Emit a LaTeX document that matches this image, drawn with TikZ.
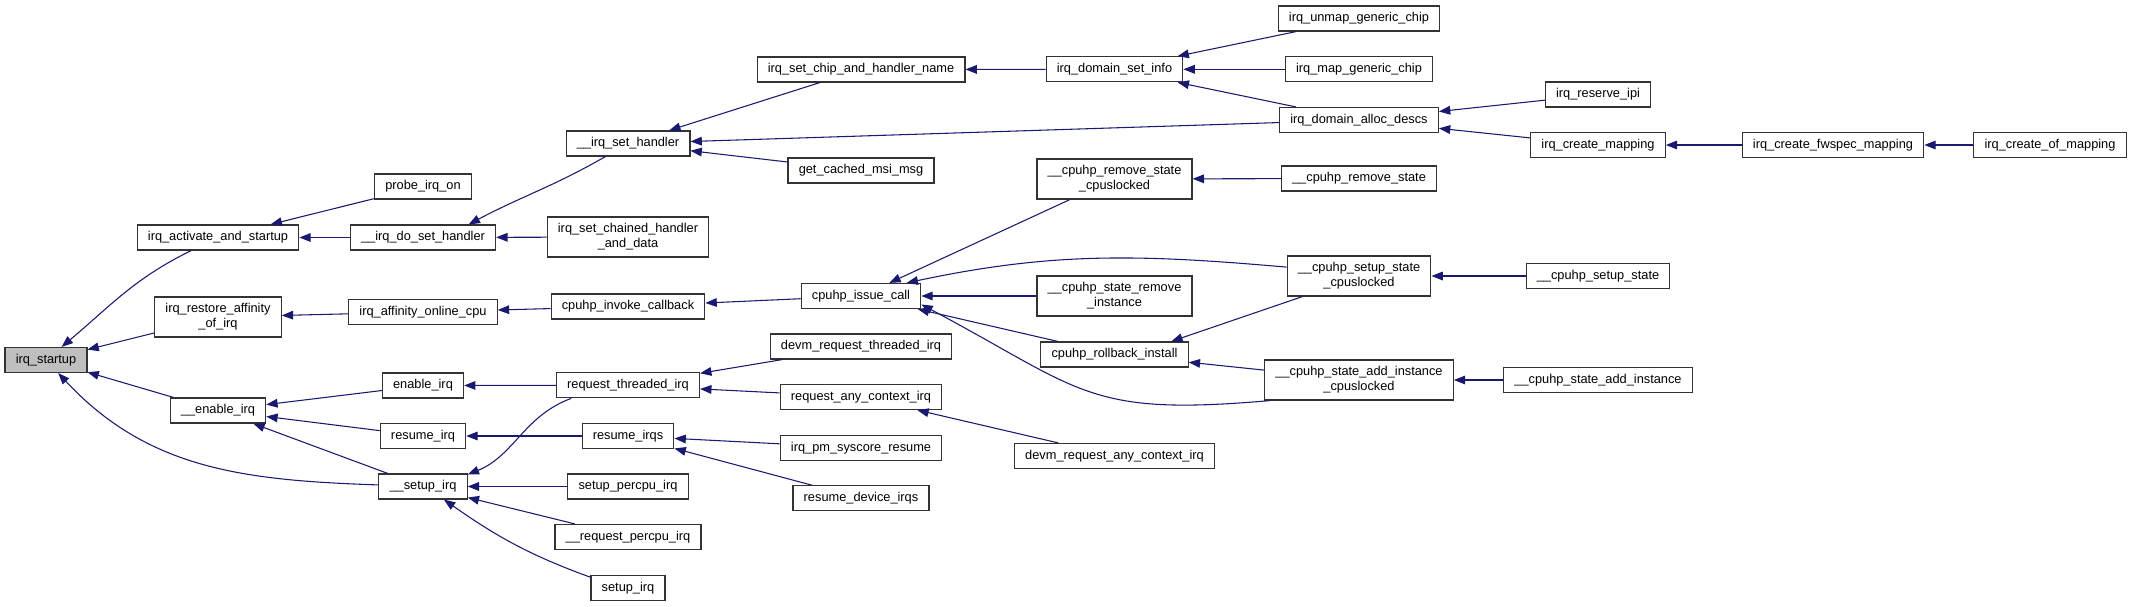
\documentclass[tikz,border=0pt]{standalone}
\usepackage{fontspec}
\setmainfont{Liberation Sans}
\usepackage{xcolor}
\usepackage{tikz}
\usetikzlibrary{arrows.meta}

\definecolor{callblue}{RGB}{25,25,112}
\definecolor{rootgray}{RGB}{191,191,191}

\begin{document}
\begin{tikzpicture}[x=0.75pt, y=-0.75pt, every node/.style={font=\fontsize{9.6}{11.25}\selectfont}]
  % Styles for the call graph
  \tikzstyle{func} = [rectangle, draw=black!80, line width=0.9pt, fill=white, minimum height=18.75pt, inner xsep=8pt, inner ysep=2pt, align=center]
  \tikzstyle{functwo} = [func, minimum height=30pt]
  \tikzstyle{rootfunc} = [func, fill=rootgray]
  \tikzstyle{call} = [->, >={Triangle[length=8.5pt,width=6.5pt]}, line width=0.8pt, color=callblue]

  \useasboundingbox (0,0) rectangle (2132,607);

  % Root function
  \node[rootfunc] (startup) at (46,360) {irq\_startup};

  % Direct callers
  \node[func] (activate) at (218,237.5) {irq\_activate\_and\_startup};
  \node[functwo] (restore) at (218,317) {irq\_restore\_affinity\\\_of\_irq};
  \node[func] (enableirqq) at (218,410.5) {\_\_enable\_irq};

  % Second level
  \node[func] (probe) at (423,186.5) {probe\_irq\_on};
  \node[func] (dosethandler) at (423,237.5) {\_\_irq\_do\_set\_handler};
  \node[func] (affinity) at (423,312) {irq\_affinity\_online\_cpu};
  \node[func] (enable) at (423,385.5) {enable\_irq};
  \node[func] (resumeirq) at (423,436) {resume\_irq};
  \node[func] (setupirq) at (423,486.5) {\_\_setup\_irq};

  % Third level
  \node[func] (sethandler) at (628,143.5) {\_\_irq\_set\_handler};
  \node[functwo] (chained) at (628,237) {irq\_set\_chained\_handler\\\_and\_data};
  \node[func] (invoke) at (628,306.5) {cpuhp\_invoke\_callback};
  \node[func] (reqthreaded) at (628,385.3) {request\_threaded\_irq};
  \node[func] (resumeirqs) at (628,436) {resume\_irqs};
  \node[func] (setuppercpu) at (628,486.5) {setup\_percpu\_irq};
  \node[func] (reqpercpu) at (628,537) {\_\_request\_percpu\_irq};
  \node[func] (setupirqfn) at (628,588) {setup\_irq};

  % Fourth level
  \node[func] (chipname) at (861,69.5) {irq\_set\_chip\_and\_handler\_name};
  \node[func] (cachedmsi) at (861,170.5) {get\_cached\_msi\_msg};
  \node[func] (issuecall) at (861,296) {cpuhp\_issue\_call};
  \node[func] (devmthreaded) at (861,346.5) {devm\_request\_threaded\_irq};
  \node[func] (anycontext) at (861,397) {request\_any\_context\_irq};
  \node[func] (syscore) at (861,448) {irq\_pm\_syscore\_resume};
  \node[func] (resumedev) at (861,498.3) {resume\_device\_irqs};

  % Fifth level
  \node[func] (setinfo) at (1114.5,69.3) {irq\_domain\_set\_info};
  \node[functwo] (removecl) at (1114.5,179) {\_\_cpuhp\_remove\_state\\\_cpuslocked};
  \node[functwo] (removeinst) at (1114.5,296) {\_\_cpuhp\_state\_remove\\\_instance};
  \node[func] (rollback) at (1114.5,354.5) {cpuhp\_rollback\_install};
  \node[func] (devmany) at (1114.5,456) {devm\_request\_any\_context\_irq};

  % Sixth level
  \node[func] (unmapchip) at (1359,18.5) {irq\_unmap\_generic\_chip};
  \node[func] (mapchip) at (1359,69.3) {irq\_map\_generic\_chip};
  \node[func] (allocdescs) at (1359,120) {irq\_domain\_alloc\_descs};
  \node[func] (removestate) at (1359,178.5) {\_\_cpuhp\_remove\_state};
  \node[functwo] (setupcl) at (1359,276) {\_\_cpuhp\_setup\_state\\\_cpuslocked};
  \node[functwo] (addinstcl) at (1359,380) {\_\_cpuhp\_state\_add\_instance\\\_cpuslocked};

  % Outer callers
  \node[func] (reserveipi) at (1598,94.5) {irq\_reserve\_ipi};
  \node[func] (createmapping) at (1598,145) {irq\_create\_mapping};
  \node[func] (setupstate) at (1598,276) {\_\_cpuhp\_setup\_state};
  \node[func] (addinst) at (1598,380) {\_\_cpuhp\_state\_add\_instance};
  \node[func] (fwspec) at (1833,145) {irq\_create\_fwspec\_mapping};
  \node[func] (ofmapping) at (2050,145) {irq\_create\_of\_mapping};

  % Calls into irq_startup
  \draw[call] (activate.206) to[out=206,in=40] (startup.40);
  \draw[call] (restore) -- (startup);
  \draw[call] (enableirqq) -- (startup);
  \draw[call] (setupirq.178) to[out=178,in=-47] (startup.-47);

  % Second level calls
  \draw[call] (probe) -- (activate);
  \draw[call] (dosethandler) -- (activate);
  \draw[call] (affinity) -- (restore);
  \draw[call] (enable) -- (enableirqq);
  \draw[call] (resumeirq) -- (enableirqq);
  \draw[call] (setupirq) -- (enableirqq);

  % Third level calls
  \draw[call] (sethandler.210) to[out=210,in=28] (dosethandler.16);
  \draw[call] (chained) -- (dosethandler);
  \draw[call] (invoke) -- (affinity);
  \draw[call] (reqthreaded) -- (enable);
  \draw[call] (resumeirqs) -- (resumeirq);
  \draw[call] (reqthreaded.193) to[out=200,in=22] (setupirq.15);
  \draw[call] (setuppercpu) -- (setupirq);
  \draw[call] (reqpercpu) -- (setupirq);
  \draw[call] (setupirqfn.164) to[out=160,in=-35] (setupirq.-32);

  % Fourth level calls
  \draw[call] (chipname) -- (sethandler);
  \draw[call] (allocdescs) -- (sethandler);
  \draw[call] (cachedmsi) -- (sethandler);
  \draw[call] (issuecall) -- (invoke);
  \draw[call] (devmthreaded) -- (reqthreaded);
  \draw[call] (anycontext) -- (reqthreaded);
  \draw[call] (syscore) -- (resumeirqs);
  \draw[call] (resumedev) -- (resumeirqs);

  % Fifth level calls
  \draw[call] (setinfo) -- (chipname);
  \draw[call] (removecl) -- (issuecall);
  \draw[call] (setupcl.173) to[out=175,in=12] (issuecall.16);
  \draw[call] (removeinst) -- (issuecall);
  \draw[call] (rollback) -- (issuecall);
  \draw[call] (addinstcl.193) to[out=185,in=-28,looseness=1.3] (issuecall.-8);
  \draw[call] (devmany) -- (anycontext);

  % Sixth level calls
  \draw[call] (unmapchip) -- (setinfo);
  \draw[call] (mapchip) -- (setinfo);
  \draw[call] (allocdescs) -- (setinfo);
  \draw[call] (removestate) -- (removecl);
  \draw[call] (setupcl.200) -- (rollback.13);
  \draw[call] (addinstcl) -- (rollback);

  % Outer calls
  \draw[call] (reserveipi) -- (allocdescs);
  \draw[call] (createmapping) -- (allocdescs);
  \draw[call] (setupstate) -- (setupcl);
  \draw[call] (addinst) -- (addinstcl);
  \draw[call] (fwspec) -- (createmapping);
  \draw[call] (ofmapping) -- (fwspec);

\end{tikzpicture}
\end{document}
